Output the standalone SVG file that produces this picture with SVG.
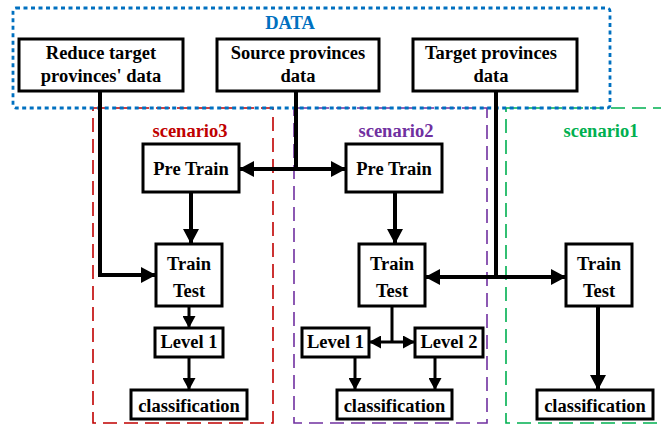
<svg xmlns="http://www.w3.org/2000/svg" width="661" height="428" viewBox="0 0 661 428">
<style>
text{font-family:'Liberation Serif','Times New Roman',Times,serif;font-weight:700;font-size:18.5px;text-anchor:middle;fill:#000}
.box{fill:#fff;stroke:#000;stroke-width:3}
.thick{fill:none;stroke:#000;stroke-width:4}
.thin{fill:none;stroke:#000;stroke-width:3}
.grp{fill:none;stroke-width:1.6;stroke-dasharray:14 7}
</style>
<defs>
<marker id="ah" markerUnits="userSpaceOnUse" markerWidth="16" markerHeight="16" refX="15" refY="8" orient="auto-start-reverse">
<path d="M0,0 L15,8 L0,16 z" fill="#000"/>
</marker>
<marker id="as" markerUnits="userSpaceOnUse" markerWidth="13" markerHeight="13" refX="12" refY="6.5" orient="auto-start-reverse">
<path d="M0,0 L12,6.5 L0,13 z" fill="#000"/>
</marker>
</defs>
<g id="scenario3">
<rect class="grp" x="93" y="108" width="180" height="315" stroke="#C00000"/>
<text x="190" y="137" style="fill:#C00000">scenario3</text>
</g>
<g id="scenario2">
<rect class="grp" x="294" y="108" width="193" height="315" stroke="#7030A0"/>
<text x="396" y="137" style="fill:#7030A0">scenario2</text>
</g>
<g id="scenario1">
<rect class="grp" x="506" y="108" width="170" height="315" stroke="#00B050"/>
<text x="601" y="137" style="fill:#00B050">scenario1</text>
</g>
<g id="data">
<rect x="13" y="8" width="597" height="100" rx="3" fill="none" stroke="#0070C0" stroke-width="2.8" stroke-dasharray="4 3.5"/>
<text x="290" y="29" style="fill:#0070C0">DATA</text>
</g>
<g id="connectors">
<path class="thick" d="M100,91 V275 H156" marker-end="url(#ah)"/>
<path class="thick" d="M296,91 V169"/>
<path class="thick" d="M239,169 H346" marker-start="url(#ah)" marker-end="url(#ah)"/>
<path class="thick" d="M191,192 V244" marker-end="url(#ah)"/>
<path class="thin" d="M189,306 V328" marker-end="url(#as)"/>
<path class="thin" d="M189,357 V390" marker-end="url(#as)"/>
<path class="thick" d="M395,192 V244" marker-end="url(#ah)"/>
<path class="thick" d="M496,91 V277"/>
<path class="thick" d="M425,277 H566" marker-start="url(#ah)" marker-end="url(#ah)"/>
<path class="thick" d="M598,306 V390" marker-end="url(#ah)"/>
<path class="thin" d="M392,306 V342"/>
<path class="thin" d="M369,342 H415" marker-start="url(#as)" marker-end="url(#as)"/>
<path class="thin" d="M355,357 V390" marker-end="url(#as)"/>
<path class="thin" d="M435,357 V390" marker-end="url(#as)"/>
</g>
<g id="reduce">
<rect class="box" x="19" y="39" width="164" height="52"/>
<text x="101" y="59">Reduce target</text>
<text x="101" y="82">provinces' data</text>
</g>
<g id="source">
<rect class="box" x="217" y="39" width="162" height="52"/>
<text x="298" y="59">Source provinces</text>
<text x="298" y="82">data</text>
</g>
<g id="target">
<rect class="box" x="413" y="39" width="164" height="52"/>
<text x="491" y="59">Target provinces</text>
<text x="491" y="82">data</text>
</g>
<g id="pretrain3">
<rect class="box" x="143" y="144" width="96" height="48"/>
<text x="191" y="175">Pre Train</text>
</g>
<g id="pretrain2">
<rect class="box" x="346" y="144" width="96" height="48"/>
<text x="394" y="175">Pre Train</text>
</g>
<g id="traintest3">
<rect class="box" x="156" y="244" width="66" height="62"/>
<text x="189" y="270">Train</text>
<text x="189" y="297">Test</text>
</g>
<g id="traintest2">
<rect class="box" x="359" y="244" width="66" height="62"/>
<text x="392" y="270">Train</text>
<text x="392" y="297">Test</text>
</g>
<g id="traintest1">
<rect class="box" x="566" y="244" width="66" height="62"/>
<text x="599" y="270">Train</text>
<text x="599" y="297">Test</text>
</g>
<g id="level1-s3">
<rect class="box" x="155" y="328" width="68" height="29"/>
<text x="189" y="348">Level 1</text>
</g>
<g id="level1-s2">
<rect class="box" x="302" y="328" width="67" height="29"/>
<text x="335.5" y="348">Level 1</text>
</g>
<g id="level2-s2">
<rect class="box" x="415" y="328" width="68" height="29"/>
<text x="449" y="348">Level 2</text>
</g>
<g id="class3">
<rect class="box" x="131" y="390" width="116" height="29"/>
<text x="189" y="412">classification</text>
</g>
<g id="class2">
<rect class="box" x="337" y="390" width="115" height="29"/>
<text x="394.5" y="412">classification</text>
</g>
<g id="class1">
<rect class="box" x="537" y="390" width="116" height="29"/>
<text x="595" y="412">classification</text>
</g>
</svg>
